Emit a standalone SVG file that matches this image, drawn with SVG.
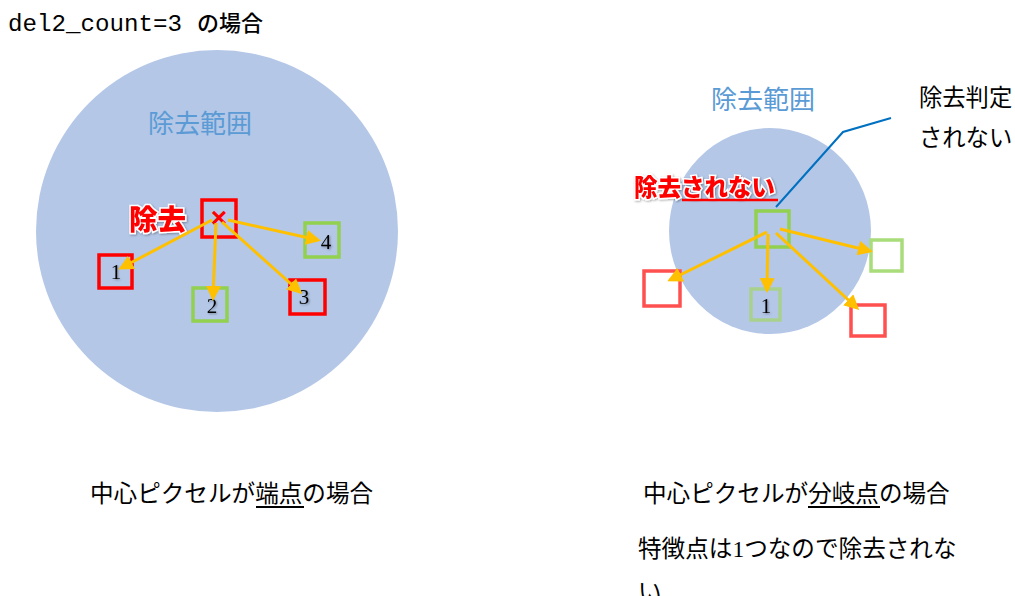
<svg xmlns="http://www.w3.org/2000/svg" width="1015" height="596" viewBox="0 0 1015 596">
<defs>
<style>
.jp{font-family:"Noto Sans CJK JP","Noto Sans",sans-serif;}
.lbl{font-family:"Noto Sans CJK JP",sans-serif;font-size:23.6px;fill:#000;}
.area{font-family:"Noto Sans CJK JP",sans-serif;font-size:26px;fill:#5B9BD5;}
.num{font-family:"Liberation Serif",serif;font-size:21px;fill:#000;filter:url(#sh);}
.red{fill:none;stroke:#FF0000;stroke-width:3.5;}
.grn{fill:none;stroke:#92D050;stroke-width:3.5;}
.lred{fill:none;stroke:#FF5050;stroke-width:3.5;}
.lgrn{fill:none;stroke:#A9DC7A;stroke-width:3.5;}
.arr{stroke:#FFC000;stroke-width:3;fill:none;marker-end:url(#ah);}
.warn{font-family:"Noto Sans CJK JP",sans-serif;font-weight:900;fill:#FF0000;stroke:#FFFFFF;stroke-width:3;paint-order:stroke;filter:url(#sh);}
</style>
<marker id="ah" viewBox="0 0 10 10" refX="8" refY="5" markerWidth="5" markerHeight="5" orient="auto" markerUnits="strokeWidth">
<path d="M0,0 L10,5 L0,10 z" fill="#FFC000"/>
</marker>
<filter id="sh" x="-20%" y="-20%" width="140%" height="140%">
<feDropShadow dx="1" dy="1" stdDeviation="0.8" flood-color="#000" flood-opacity="0.35"/>
</filter>
</defs>

<g id="title">
<text x="8" y="31" font-family="'Liberation Mono',monospace" font-size="24" textLength="174" lengthAdjust="spacingAndGlyphs" fill="#000">del2_count=3</text>
<text x="197" y="31" class="jp" font-size="22" font-weight="500" fill="#000">の場合</text>
</g>

<g id="left-range">
<circle cx="217" cy="231" r="181" fill="#B4C7E7"/>
<text x="148" y="133" class="area">除去範囲</text>
</g>

<g id="left-center">
<rect x="202" y="200" width="34" height="37" class="red"/>
<text x="219" y="227" text-anchor="middle" font-family="Liberation Sans,sans-serif" font-weight="bold" font-size="28" fill="#FF0000">×</text>
<text x="129" y="230" class="warn" font-size="28.5">除去</text>
</g>

<g id="left-n1"><rect x="99" y="255" width="33" height="33" class="red"/><text x="116" y="279" text-anchor="middle" class="num">1</text></g>
<g id="left-n2"><rect x="193" y="288" width="34" height="33" class="grn"/><text x="212" y="313" text-anchor="middle" class="num">2</text></g>
<g id="left-n3"><rect x="290" y="280" width="35" height="34" class="red"/><text x="304" y="304" text-anchor="middle" class="num">3</text></g>
<g id="left-n4"><rect x="305" y="223" width="34" height="34" class="grn"/><text x="326" y="249" text-anchor="middle" class="num">4</text></g>

<g id="right-range">
<ellipse cx="770" cy="231" rx="101" ry="103" fill="#B4C7E7"/>
<text x="711" y="109" class="area">除去範囲</text>
</g>

<g id="right-center">
<rect x="756" y="211" width="33" height="36" class="grn"/>
</g>
<g id="right-n1"><rect x="751" y="289" width="29" height="31" fill="none" stroke="#A9D18E" stroke-width="3.5"/><text x="766" y="313" text-anchor="middle" class="num">1</text></g>
<g id="right-nl"><rect x="644" y="271" width="36" height="35" class="lred"/></g>
<g id="right-nr"><rect x="871" y="240" width="31" height="31" class="lgrn"/></g>
<g id="right-nbr"><rect x="851" y="305" width="34" height="31" class="lred"/></g>

<g id="right-warn">
<text x="634" y="196" class="warn" font-size="23.5">除去されない</text>
<line x1="682" y1="200" x2="778" y2="200" stroke="#FF0000" stroke-width="2.5"/>
</g>

<g id="callout">
<text x="919" y="106" class="jp" font-size="23.3" fill="#000">除去判定</text>
<text x="919" y="146" class="jp" font-size="23.3" fill="#000">されない</text>
</g>

<g id="captions">
<text x="90" y="502" class="lbl">中心ピクセルが端点の場合</text>
<line x1="256" y1="507" x2="304" y2="507" stroke="#000" stroke-width="2"/>
<text x="643" y="502" class="lbl">中心ピクセルが分岐点の場合</text>
<line x1="808" y1="507" x2="880" y2="507" stroke="#000" stroke-width="2"/>
<text x="638" y="557" class="lbl">特徴点は<tspan font-family="Liberation Serif,serif">1</tspan>つなので除去されな</text>
<text x="638" y="600" class="lbl">い</text>
</g>

<g id="connectors">
<line x1="212" y1="220" x2="121" y2="268" class="arr"/>
<line x1="216" y1="223" x2="213" y2="298" class="arr"/>
<line x1="222" y1="222" x2="300" y2="292" class="arr"/>
<line x1="228" y1="220" x2="318" y2="240" class="arr"/>
<line x1="767" y1="232" x2="670" y2="280" class="arr"/>
<line x1="768" y1="234" x2="767" y2="290" class="arr"/>
<line x1="776" y1="233" x2="857" y2="308" class="arr"/>
<line x1="780" y1="229" x2="870" y2="251" class="arr"/>
<polyline points="776,207 843,132 891,118" fill="none" stroke="#0070C0" stroke-width="2"/>
</g>
</svg>
